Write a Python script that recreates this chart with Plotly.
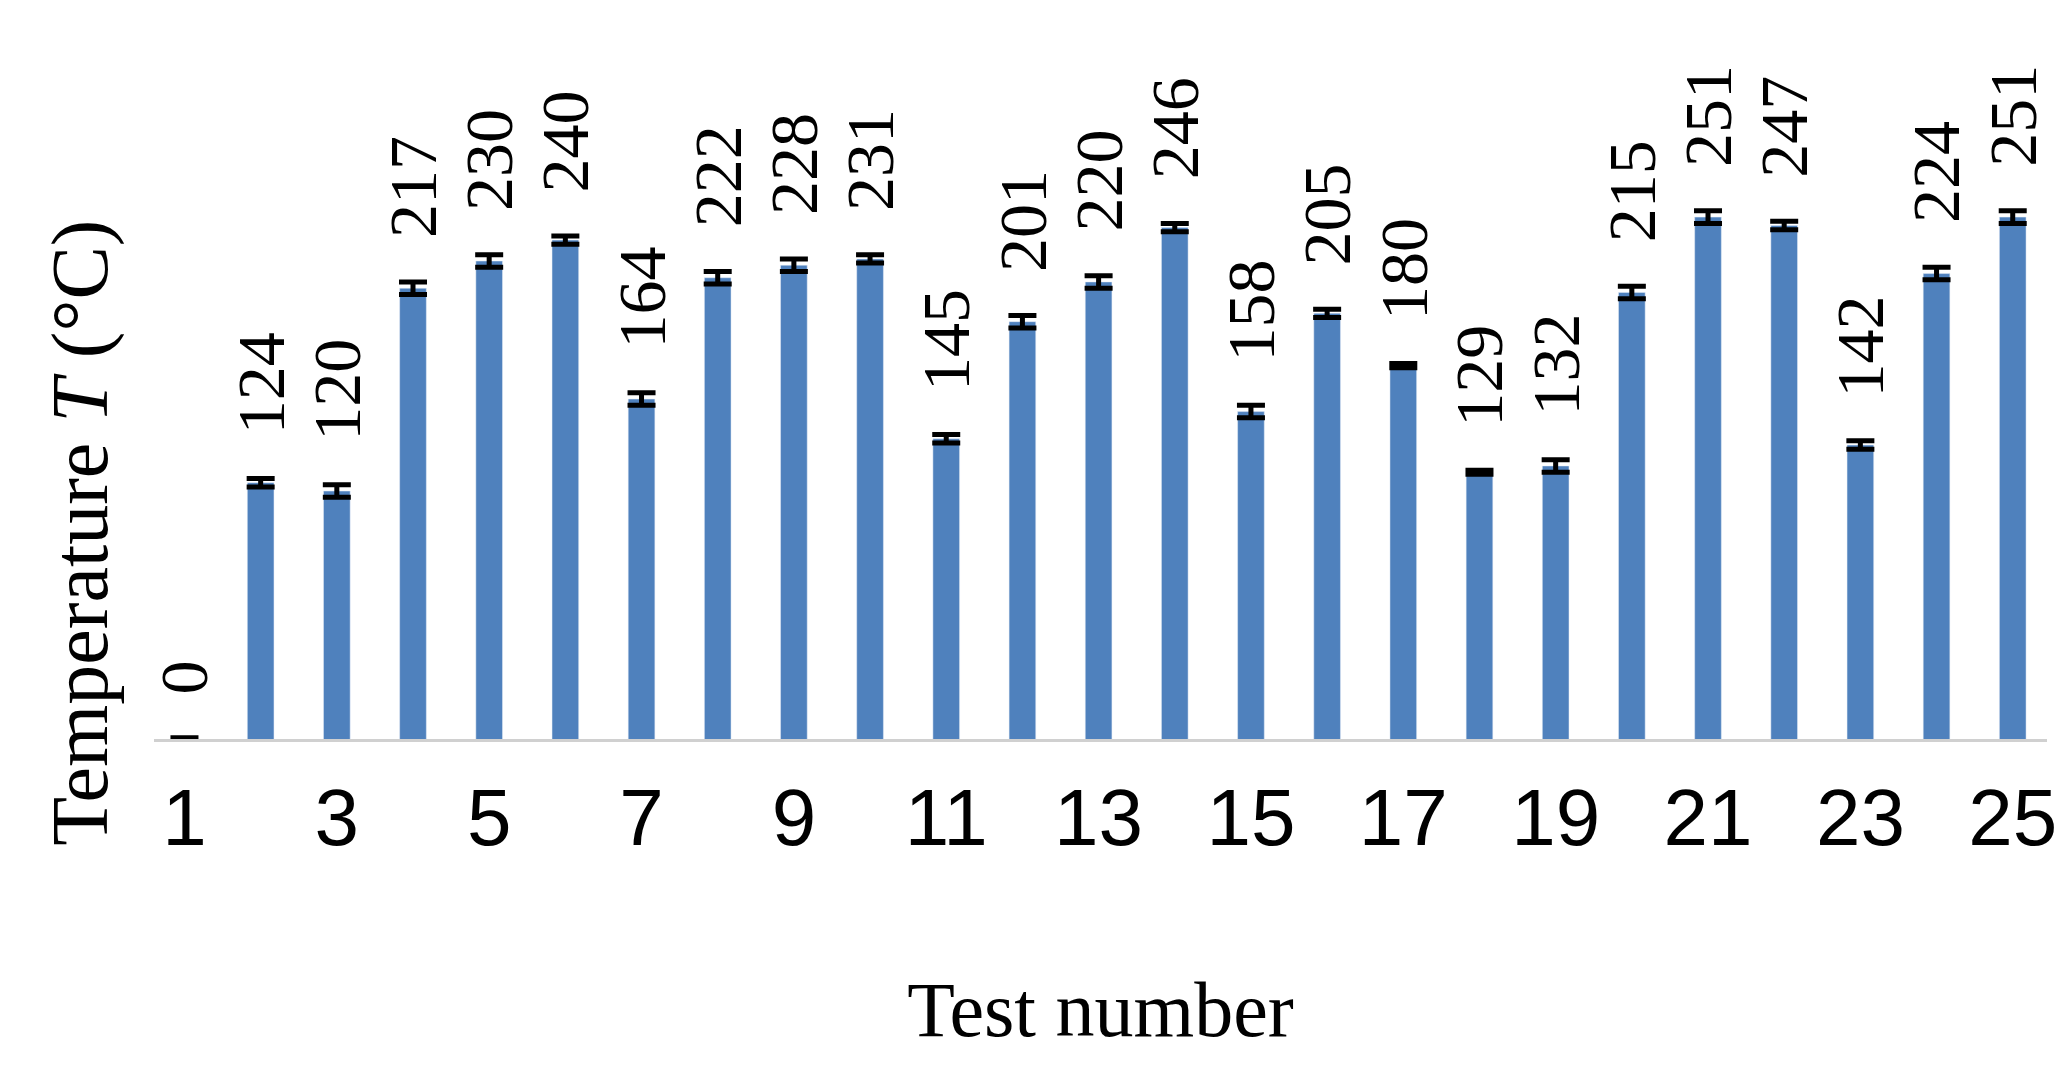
import plotly.graph_objects as go

tests = list(range(1, 26))
temps = [0, 124, 120, 217, 230, 240, 164, 222, 228, 231, 145, 201, 220, 246, 158, 205, 180, 129, 132, 215, 251, 247, 142, 224, 251]
errs = [2, 2, 3, 3, 3, 2, 3, 3, 3, 2, 2, 3, 3, 2, 3, 2, 1, 1, 3, 3, 3, 2, 2, 3, 3]
tick_labels = [str(t) for t in range(1, 26, 2)]

fig = go.Figure()
fig.add_trace(go.Bar(
    x=tests, y=temps, width=0.35, marker_color="#4f81bd",
    error_y=dict(type="data", array=errs, visible=True, color="black", thickness=5, width=14),
))
for t, v, e in zip(tests, temps, errs):
    fig.add_annotation(x=t, y=v + e + 20, text=str(v), textangle=-90, showarrow=False,
                       yanchor="bottom", xanchor="center",
                       font=dict(family="Liberation Serif", size=68, color="black"))

fig.add_shape(type="line", xref="paper", x0=0, x1=1, y0=0, y1=0, yref="y",
              line=dict(color="#d0d0d0", width=6))

fig.add_annotation(xref="paper", yref="paper", x=-0.0386, y=0.285, text="Temperature <i>T</i> (°C)",
                   textangle=-90, showarrow=False, xanchor="center", yanchor="middle",
                   font=dict(family="Liberation Serif", size=80, color="black"))

fig.update_layout(
    width=2069, height=1091, paper_bgcolor="white", plot_bgcolor="white",
    margin=dict(l=146, r=30, t=0, b=357), showlegend=False,
    xaxis=dict(range=[0.6, 25.45], tickvals=list(range(1, 26, 2)), ticktext=tick_labels,
               tickfont=dict(family="Liberation Sans Narrow, Liberation Sans", size=80, color="black"),
               showgrid=False, zeroline=False, ticks="", ticklabelstandoff=22,
               title=dict(text="Test number", font=dict(family="Liberation Serif", size=78, color="black"), standoff=120)),
    yaxis=dict(range=[0, 351], showticklabels=False, showgrid=False, zeroline=False),
)
fig.write_html("out.html")
